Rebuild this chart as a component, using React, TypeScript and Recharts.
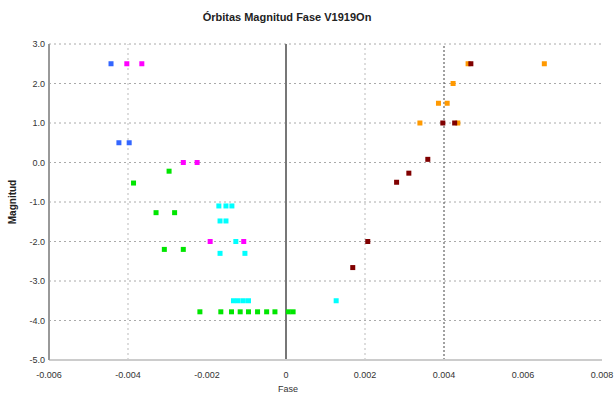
import React from 'react';
import { ScatterChart, Scatter, XAxis, YAxis, CartesianGrid, ReferenceLine } from 'recharts';

const xTicks = [-0.006, -0.004, -0.002, 0, 0.002, 0.004, 0.006, 0.008];
const yTicks = [3, 2, 1, 0, -1, -2, -3, -4, -5];

const blueSeries = [
  { x: -0.00443, y: 2.5 }, { x: -0.00423, y: 0.5 }, { x: -0.00397, y: 0.5 },
];
const magentaSeries = [
  { x: -0.00403, y: 2.5 }, { x: -0.00365, y: 2.5 }, { x: -0.0026, y: 0.0 }, { x: -0.00225, y: 0.0 },
  { x: -0.00192, y: -2.0 }, { x: -0.00107, y: -2.0 },
];
const greenSeries = [
  { x: -0.00296, y: -0.22 }, { x: -0.00386, y: -0.52 }, { x: -0.00329, y: -1.27 }, { x: -0.00282, y: -1.27 },
  { x: -0.00308, y: -2.2 }, { x: -0.0026, y: -2.2 },
  { x: -0.00218, y: -3.78 }, { x: -0.00165, y: -3.78 }, { x: -0.00138, y: -3.78 }, { x: -0.00116, y: -3.78 },
  { x: -0.00095, y: -3.78 }, { x: -0.00072, y: -3.78 }, { x: -0.00049, y: -3.78 }, { x: -0.00028, y: -3.78 },
  { x: 0.00006, y: -3.78 }, { x: 0.00018, y: -3.78 },
];
const cyanSeries = [
  { x: -0.0017, y: -1.1 }, { x: -0.00152, y: -1.1 }, { x: -0.00137, y: -1.1 },
  { x: -0.00167, y: -1.48 }, { x: -0.00152, y: -1.48 }, { x: -0.00127, y: -2.0 },
  { x: -0.00167, y: -2.3 }, { x: -0.00104, y: -2.3 },
  { x: -0.00133, y: -3.5 }, { x: -0.00121, y: -3.5 }, { x: -0.00108, y: -3.5 }, { x: -0.00095, y: -3.5 },
  { x: 0.00127, y: -3.5 },
];
const orangeSeries = [
  { x: 0.00461, y: 2.5 }, { x: 0.00654, y: 2.5 }, { x: 0.00423, y: 2.0 }, { x: 0.00386, y: 1.5 },
  { x: 0.00408, y: 1.5 }, { x: 0.00339, y: 1.0 }, { x: 0.00435, y: 1.0 },
];
const darkRedSeries = [
  { x: 0.00468, y: 2.5 }, { x: 0.00397, y: 1.0 }, { x: 0.00427, y: 1.0 }, { x: 0.00359, y: 0.08 },
  { x: 0.00311, y: -0.27 }, { x: 0.0028, y: -0.5 }, { x: 0.00207, y: -2.0 }, { x: 0.00169, y: -2.66 },
];

const Square = (props: any) => {
  const { cx, cy, fill } = props;
  if (cx == null || cy == null) return null;
  return <rect x={cx - 2.5} y={cy - 2.5} width={5} height={5} fill={fill} />;
};

const fmtX = (v: number) => (v === 0 ? '0' : v.toFixed(3));
const fmtY = (v: number) => v.toFixed(1);

const font = '"Liberation Sans", Arial, sans-serif';

export default function App() {
  return (
    <div style={{ position: 'absolute', left: 0, top: 0, width: 614, height: 396, background: '#fff', fontFamily: font }}>
      <ScatterChart width={614} height={396} margin={{ top: 44, right: 12, bottom: 0, left: 0 }}>
        <text x={287} y={21} textAnchor="middle" fontSize={11} fontWeight="bold" fill="#222" fontFamily={font}>
          Órbitas Magnitud Fase V1919On
        </text>
        <text x={16} y={202} textAnchor="middle" fontSize={10} fontWeight="bold" fill="#222" fontFamily={font} transform="rotate(-90 16 202)">
          Magnitud
        </text>
        <text x={288} y={392} textAnchor="middle" fontSize={9} fill="#333" fontFamily={font}>
          Fase
        </text>
        <CartesianGrid vertical={false} stroke="#aaa" strokeDasharray="2 3" />
        <XAxis
          type="number"
          dataKey="x"
          domain={[-0.006, 0.008]}
          ticks={xTicks}
          tickFormatter={fmtX}
          height={36}
          axisLine={{ stroke: '#ccc', strokeWidth: 2 }}
          tickLine={false}
          tick={{ fontSize: 9, fill: '#333', fontFamily: font }}
          tickMargin={6}
        />
        <YAxis
          type="number"
          dataKey="y"
          domain={[-5, 3]}
          ticks={yTicks}
          tickFormatter={fmtY}
          width={49}
          axisLine={{ stroke: '#999', strokeWidth: 2 }}
          tickLine={false}
          tick={{ fontSize: 9, fill: '#333', fontFamily: font }}
          tickMargin={0}
          tickSize={4}
        />
        <ReferenceLine x={-0.004} stroke="#bbb" strokeDasharray="2 3" />
        <ReferenceLine x={0.002} stroke="#bbb" strokeDasharray="2 3" />
        <ReferenceLine x={0.004} stroke="#444" strokeDasharray="2 2" />
        <ReferenceLine x={0} stroke="#777" strokeWidth={2} />
        <Scatter data={blueSeries} fill="#3366ff" shape={Square} isAnimationActive={false} />
        <Scatter data={magentaSeries} fill="#ff00ff" shape={Square} isAnimationActive={false} />
        <Scatter data={greenSeries} fill="#00e600" shape={Square} isAnimationActive={false} />
        <Scatter data={cyanSeries} fill="#00ffff" shape={Square} isAnimationActive={false} />
        <Scatter data={orangeSeries} fill="#ff9900" shape={Square} isAnimationActive={false} />
        <Scatter data={darkRedSeries} fill="#800000" shape={Square} isAnimationActive={false} />
      </ScatterChart>
    </div>
  );
}
